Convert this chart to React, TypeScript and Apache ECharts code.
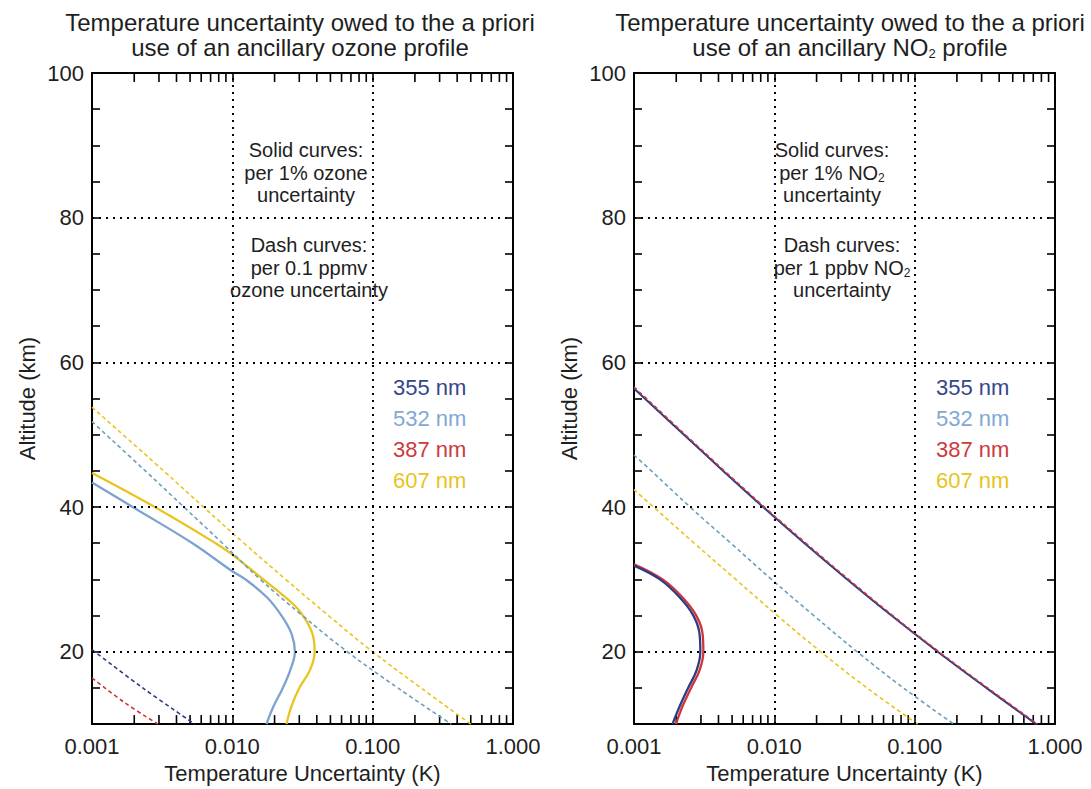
import React, { useEffect, useRef } from "react";
import * as echarts from "echarts";

// ---------- data ----------
const xTickLabels = ["0.001", "0.010", "0.100", "1.000"];
const yTickLabels = [20, 40, 60, 80, 100];
const minorTicks = [0.002, 0.003, 0.004, 0.005, 0.006, 0.007, 0.008, 0.009, 0.02, 0.03, 0.04, 0.05, 0.06, 0.07, 0.08, 0.09, 0.2, 0.3, 0.4, 0.5, 0.6, 0.7, 0.8, 0.9];
const gridX = [0.01, 0.1];
const gridY = [20, 40, 60, 80];

// Left panel: ozone
const o532SolidAlt = [43.4, 40, 35, 31.3, 30, 27.5, 25, 22.5, 20, 17.5, 15, 12.5, 10];
const o532SolidX = [0.001, 0.00195, 0.0052, 0.0097, 0.0124, 0.0177, 0.0224, 0.0264, 0.0279, 0.0259, 0.0229, 0.0197, 0.0175];
const o607SolidAlt = [44.7, 40, 35, 33.5, 30, 26.6, 25, 22.5, 20, 17.5, 15, 12.5, 10];
const o607SolidX = [0.001, 0.0028, 0.0076, 0.0099, 0.0166, 0.0271, 0.0319, 0.0372, 0.0386, 0.0358, 0.030, 0.0264, 0.0243];
const o532DashAlt = [51.8, 45, 40, 35, 30, 25, 20, 15, 10];
const o532DashX = [0.001, 0.0024, 0.00452, 0.0085, 0.0158, 0.0316, 0.066, 0.151, 0.363];
const o607DashAlt = [53.8, 45, 40, 35, 30, 25, 20, 15, 10];
const o607DashX = [0.001, 0.00324, 0.00624, 0.0121, 0.024, 0.0484, 0.1, 0.221, 0.5];
const o355DashAlt = [20.3, 15, 10];
const o355DashX = [0.001, 0.0023, 0.0054];
const o387DashAlt = [16.4, 13, 10];
const o387DashX = [0.001, 0.0017, 0.00295];

// Right panel: NO2
const n355SolidAlt = [31.9, 30, 27.5, 25, 22.5, 20, 17.5, 15, 12.5, 10];
const n355SolidX = [0.001, 0.00153, 0.00212, 0.00265, 0.00293, 0.00297, 0.0028, 0.00243, 0.00212, 0.00188];
const n387SolidAlt = [32.1, 30, 27.5, 25, 22.5, 20, 17.5, 15, 12.5, 10];
const n387SolidX = [0.001, 0.0016, 0.00222, 0.00278, 0.00308, 0.00312, 0.00294, 0.00255, 0.00222, 0.00199];
const n355DashAlt = [56.4, 50, 45, 40, 35, 30, 25, 20, 15, 10];
const n355DashX = [0.001, 0.00227, 0.00432, 0.00832, 0.0164, 0.0331, 0.0684, 0.146, 0.324, 0.735];
const n387DashAlt = [56.6, 50, 45, 40, 35, 30, 25, 20, 15, 10];
const n387DashX = [0.001, 0.00232, 0.00441, 0.0085, 0.0168, 0.0338, 0.0698, 0.149, 0.331, 0.75];
const n532DashAlt = [47.2, 45, 40, 35, 30, 25, 20, 15, 10];
const n532DashX = [0.001, 0.00133, 0.00251, 0.0049, 0.00955, 0.0191, 0.0389, 0.0832, 0.19];
const n607DashAlt = [42.4, 40, 35, 30, 25, 20, 15, 10];
const n607DashX = [0.001, 0.00138, 0.00269, 0.00531, 0.0105, 0.0214, 0.0457, 0.105];

const legendNames = ["355 nm", "532 nm", "387 nm", "607 nm"];

// ---------- styles ----------
const FONT = "'Liberation Sans', Arial, Helvetica, sans-serif";
const C355 = "#2c3e80";
const C532 = "#7ba3d1";
const C532D = "#6c9fbb";
const C387 = "#d2343c";
const C607 = "#e8c41c";
const legendColors = ["#34478a", "#82a8d4", "#cc3a40", "#e8c420"];
const TXT = "#1e1e1e";

const zip = (xs: number[], ys: number[]) => xs.map((x, i) => [x, ys[i]]);

const GRIDS = [
  { left: 92, top: 73, width: 421, height: 657 },
  { left: 634, top: 73, width: 421, height: 657 },
];

function line(name: string, xs: number[], ys: number[], color: string, panel: number, dashed: boolean, width: number, extra: any = {}) {
  return {
    type: "line",
    name,
    xAxisIndex: panel * 2,
    yAxisIndex: panel * 2,
    data: zip(xs, ys),
    smooth: 0.4,
    symbol: "none",
    z: 3,
    lineStyle: {
      color,
      width,
      type: dashed ? [4, 3] : "solid",
      ...extra,
    },
  };
}

function tickSeries(panel: number) {
  return {
    type: "custom",
    xAxisIndex: panel * 2,
    yAxisIndex: panel * 2,
    z: 1,
    silent: true,
    data: minorTicks.map((v) => [v, 10]),
    renderItem: (params: any, api: any) => {
      const v = api.value(0);
      const b = api.coord([v, 10]);
      const t = api.coord([v, 100]);
      return {
        type: "group",
        children: [
          { type: "line", shape: { x1: b[0], y1: b[1], x2: b[0], y2: b[1] - 9 }, style: { stroke: "#000", lineWidth: 1.6 } },
          { type: "line", shape: { x1: t[0], y1: t[1], x2: t[0], y2: t[1] + 9 }, style: { stroke: "#000", lineWidth: 1.6 } },
        ],
      };
    },
    markLine: {
      silent: true,
      symbol: "none",
      label: { show: false },
      lineStyle: { color: "#000", width: 2, type: [2, 5] },
      data: [...gridX.map((x) => ({ xAxis: x })), ...gridY.map((y) => ({ yAxis: y }))],
    },
  };
}

function xAxes(panel: number) {
  const base = {
    type: "log",
    logBase: 10,
    min: 0.001,
    max: 1,
    gridIndex: panel,
    splitLine: { show: false },
    axisLine: { show: true, lineStyle: { color: "#000", width: 2 } },
    axisTick: { show: true, inside: true, length: 9, lineStyle: { color: "#000", width: 1.6 } },
  };
  return [
    {
      ...base,
      position: "bottom",
      name: "Temperature Uncertainty (K)",
      nameLocation: "middle",
      nameGap: 36,
      nameTextStyle: { fontFamily: FONT, fontSize: 22, color: TXT },
      axisLabel: {
        show: true,
        margin: 11,
        fontFamily: FONT,
        fontSize: 22,
        color: TXT,
        formatter: (v: number) => {
          const i = Math.round(Math.log10(v) + 3);
          return xTickLabels[i] ?? "";
        },
      },
    },
    { ...base, position: "top", axisLabel: { show: false } },
  ];
}

function yAxes(panel: number) {
  const base = {
    type: "value",
    min: 10,
    max: 100,
    interval: 5,
    gridIndex: panel,
    splitLine: { show: false },
    axisLine: { show: true, lineStyle: { color: "#000", width: 2 } },
    axisTick: { show: true, inside: true, length: 8, lineStyle: { color: "#000", width: 1.6 } },
  };
  return [
    {
      ...base,
      position: "left",
      name: "Altitude (km)",
      nameLocation: "middle",
      nameGap: 54,
      nameTextStyle: { fontFamily: FONT, fontSize: 22, color: TXT },
      axisLabel: {
        show: true,
        margin: 8,
        fontFamily: FONT,
        fontSize: 22,
        color: TXT,
        formatter: (v: number) => (yTickLabels.includes(v) ? String(v) : ""),
      },
    },
    { ...base, position: "right", axisLabel: { show: false } },
  ];
}

function txt(x: number, y: number, text: string, size: number, color: string, align = "center", lh = 23, rich: any = undefined) {
  return {
    type: "text",
    x,
    y,
    z: 10,
    style: {
      text,
      fill: color,
      font: `${size}px ${FONT}`,
      fontSize: size,
      fontFamily: FONT,
      align,
      textAlign: align,
      verticalAlign: "top",
      textVerticalAlign: "top",
      lineHeight: lh,
      rich,
    },
  };
}

const subRich = (color: string, size: number) => ({
  sub: { fill: color, fontSize: size, fontFamily: FONT, verticalAlign: "bottom", lineHeight: 14 },
});

export default function App() {
  const ref = useRef<HTMLDivElement>(null);
  useEffect(() => {
    if (!ref.current) return;
    const chart = echarts.init(ref.current, undefined, { renderer: "svg" });
    const graphics: any[] = [
      txt(300, 10, "Temperature uncertainty owed to the a priori\nuse of an ancillary ozone profile", 24, TXT, "center", 25),
      txt(850, 10, "Temperature uncertainty owed to the a priori\nuse of an ancillary NO{sub|2} profile", 24, TXT, "center", 25, subRich(TXT, 13)),
      txt(306, 139, "Solid curves:\nper 1% ozone\nuncertainty", 20, TXT, "center", 22.5),
      txt(309, 234, "Dash curves:\nper 0.1 ppmv\nozone uncertainty", 20, TXT, "center", 22.5),
      txt(832, 139, "Solid curves:\nper 1% NO{sub|2}\nuncertainty", 20, TXT, "center", 22.5, subRich(TXT, 12)),
      txt(842, 234, "Dash curves:\nper 1 ppbv NO{sub|2}\nuncertainty", 20, TXT, "center", 22.5, subRich(TXT, 12)),
    ];
    legendNames.forEach((n, i) => {
      graphics.push(txt(393, 375 + i * 31, n, 22, legendColors[i], "left", 24));
      graphics.push(txt(936, 375 + i * 31, n, 22, legendColors[i], "left", 24));
    });

    const option: any = {
      animation: false,
      backgroundColor: "#fff",
      textStyle: { fontFamily: FONT },
      grid: GRIDS.map((g) => ({ ...g, containLabel: false })),
      xAxis: [...xAxes(0), ...xAxes(1)],
      yAxis: [...yAxes(0), ...yAxes(1)],
      graphic: { elements: graphics },
      series: [
        tickSeries(0),
        tickSeries(1),
        // left (ozone)
        line("532 solid", o532SolidX, o532SolidAlt, C532, 0, false, 2.3),
        line("607 solid", o607SolidX, o607SolidAlt, C607, 0, false, 2.3),
        line("355 dash", o355DashX, o355DashAlt, C355, 0, true, 1.6),
        line("387 dash", o387DashX, o387DashAlt, C387, 0, true, 1.6),
        line("532 dash", o532DashX, o532DashAlt, C532D, 0, true, 1.6),
        line("607 dash", o607DashX, o607DashAlt, C607, 0, true, 1.6),
        // right (NO2)
        line("387 solid", n387SolidX, n387SolidAlt, C387, 1, false, 2.3),
        line("355 solid", n355SolidX, n355SolidAlt, C355, 1, false, 2.3),
        line("607 dash", n607DashX, n607DashAlt, C607, 1, true, 1.6),
        line("532 dash", n532DashX, n532DashAlt, C532D, 1, true, 1.6),
        line("355 dash", n355DashX, n355DashAlt, C355, 1, false, 2),
        line("387 dash", n387DashX, n387DashAlt, C387, 1, true, 1.6),
      ],
    };
    chart.setOption(option);
    return () => chart.dispose();
  }, []);
  return <div ref={ref} style={{ position: "absolute", left: 0, top: 0, width: 1091, height: 789 }} />;
}
